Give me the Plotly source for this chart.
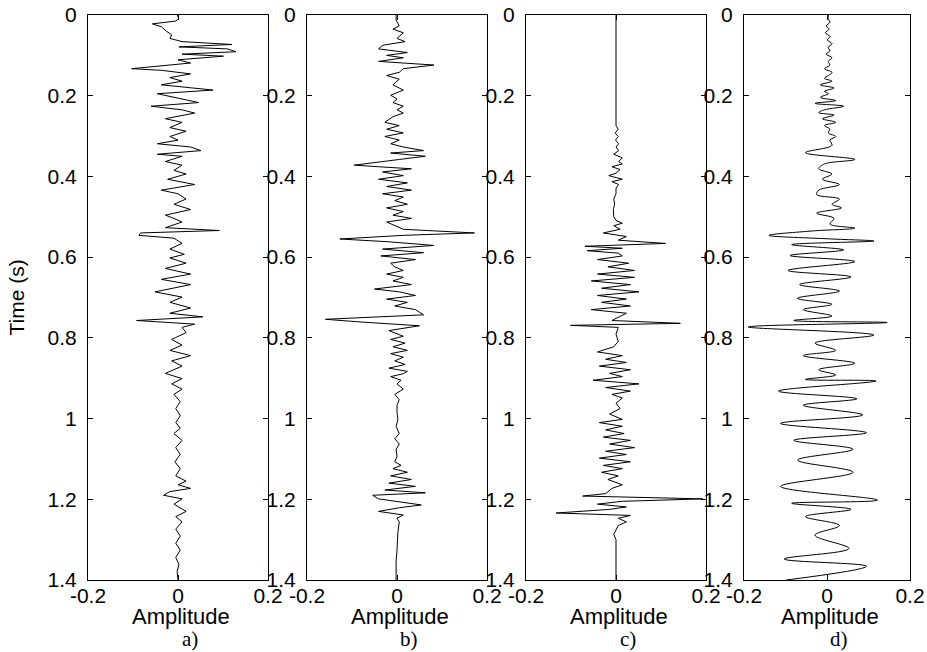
import plotly.graph_objects as go

# seismic traces: time (s) and amplitude
t_a = [0.000, 0.009, 0.015, 0.022, 0.029, 0.040, 0.049, 0.058, 0.066, 0.073, 0.079, 0.084, 0.091, 0.097,
       0.102, 0.111, 0.119, 0.133, 0.137, 0.146, 0.155, 0.164, 0.173, 0.186, 0.195, 0.204, 0.217, 0.226,
       0.235, 0.243, 0.257, 0.266, 0.279, 0.288, 0.301, 0.310, 0.319, 0.327, 0.336, 0.345, 0.350, 0.363,
       0.372, 0.385, 0.394, 0.407, 0.420, 0.434, 0.443, 0.456, 0.469, 0.482, 0.496, 0.504, 0.513, 0.527,
       0.534, 0.540, 0.546, 0.553, 0.566, 0.580, 0.593, 0.602, 0.615, 0.628, 0.642, 0.655, 0.668, 0.686,
       0.699, 0.712, 0.726, 0.739, 0.748, 0.757, 0.766, 0.774, 0.787, 0.804, 0.818, 0.831, 0.844, 0.857,
       0.870, 0.888, 0.901, 0.914, 0.927, 0.940, 0.958, 0.975, 0.993, 1.010, 1.024, 1.037, 1.054, 1.072,
       1.089, 1.107, 1.124, 1.142, 1.155, 1.164, 1.173, 1.181, 1.190, 1.199, 1.212, 1.230, 1.243, 1.256,
       1.274, 1.291, 1.309, 1.326, 1.344, 1.361, 1.379, 1.400]
amp_a = [-0.002, 0.002, -0.005, -0.057, -0.037, -0.026, -0.014, -0.018, 0.009, 0.120, 0.002, 0.110, 0.129, 0.009,
         0.101, 0.000, 0.028, -0.103, -0.037, 0.028, -0.018, 0.009, -0.037, 0.078, -0.046, -0.009, 0.046, -0.060,
         0.009, 0.037, -0.028, 0.009, -0.018, 0.018, -0.018, 0.000, -0.046, 0.028, 0.051, -0.046, 0.009, -0.028,
         0.009, -0.009, 0.018, -0.023, 0.037, -0.037, 0.000, 0.018, -0.009, 0.028, -0.028, -0.009, 0.009, -0.028,
         0.092, -0.083, -0.087, -0.009, 0.009, -0.018, 0.014, -0.018, 0.018, -0.028, 0.028, -0.037, 0.028, -0.051,
         0.009, -0.018, 0.028, -0.018, 0.055, -0.092, 0.037, 0.009, 0.018, -0.014, 0.009, -0.018, 0.028, -0.014,
         0.009, -0.028, 0.009, -0.014, 0.009, -0.009, 0.005, -0.005, 0.005, -0.005, 0.005, -0.009, 0.009, -0.005,
         0.005, -0.007, 0.005, -0.005, 0.018, 0.000, 0.028, -0.018, -0.032, 0.009, -0.009, 0.018, -0.005, 0.009,
         -0.005, 0.005, -0.005, 0.005, -0.005, 0.002, -0.002, 0.000]

t_b = [0.000, 0.013, 0.027, 0.035, 0.044, 0.058, 0.066, 0.075, 0.084, 0.093, 0.100, 0.106, 0.115, 0.124,
       0.133, 0.142, 0.150, 0.159, 0.173, 0.186, 0.199, 0.208, 0.217, 0.226, 0.235, 0.243, 0.252, 0.266,
       0.274, 0.283, 0.292, 0.301, 0.310, 0.319, 0.327, 0.336, 0.342, 0.350, 0.358, 0.372, 0.376, 0.381,
       0.389, 0.398, 0.407, 0.416, 0.425, 0.434, 0.443, 0.451, 0.460, 0.469, 0.478, 0.487, 0.496, 0.504,
       0.513, 0.522, 0.531, 0.540, 0.546, 0.555, 0.562, 0.571, 0.580, 0.589, 0.597, 0.606, 0.615, 0.624,
       0.633, 0.642, 0.650, 0.659, 0.668, 0.679, 0.686, 0.695, 0.704, 0.712, 0.721, 0.730, 0.743, 0.754,
       0.761, 0.770, 0.782, 0.796, 0.804, 0.813, 0.822, 0.831, 0.839, 0.848, 0.857, 0.866, 0.875, 0.883,
       0.889, 0.896, 0.905, 0.914, 0.927, 0.940, 0.953, 0.967, 0.984, 1.002, 1.019, 1.037, 1.050, 1.063,
       1.076, 1.094, 1.107, 1.116, 1.124, 1.133, 1.142, 1.151, 1.160, 1.168, 1.177, 1.184, 1.190, 1.199,
       1.208, 1.214, 1.221, 1.230, 1.239, 1.247, 1.256, 1.282, 1.326, 1.353, 1.400]
amp_b = [-0.002, -0.002, 0.005, -0.009, 0.014, 0.000, 0.018, -0.032, -0.041, 0.023, -0.023, 0.014, -0.041, 0.082,
         0.014, 0.005, -0.023, 0.005, -0.009, 0.014, -0.014, 0.000, -0.009, 0.014, 0.000, 0.014, -0.009, -0.027,
         0.005, -0.023, 0.014, -0.027, 0.005, -0.014, 0.014, 0.059, -0.014, 0.063, 0.005, -0.095, -0.041, 0.032,
         -0.032, 0.014, -0.041, 0.023, -0.023, 0.032, -0.032, 0.014, -0.005, 0.023, -0.023, 0.014, -0.009, 0.032,
         -0.023, -0.005, 0.014, 0.172, 0.014, -0.127, -0.018, 0.082, -0.032, 0.059, -0.036, 0.041, -0.014, -0.005,
         0.014, -0.023, 0.014, -0.009, 0.032, -0.050, 0.005, 0.041, -0.023, 0.023, -0.005, 0.041, 0.059, -0.159,
         -0.077, 0.050, -0.018, 0.014, -0.014, 0.018, -0.009, 0.023, -0.014, 0.014, -0.005, 0.018, -0.018, 0.023,
         0.014, -0.014, 0.009, 0.000, 0.014, -0.005, 0.005, 0.000, 0.000, 0.002, -0.002, 0.005, -0.005, 0.005,
         -0.002, 0.000, -0.005, 0.009, -0.009, 0.023, -0.014, 0.032, -0.018, 0.041, -0.027, 0.063, -0.054, -0.041,
         0.014, 0.054, 0.005, -0.041, 0.014, 0.000, 0.005, 0.002, 0.000, -0.002, -0.002]

t_c = [0.000, 0.274, 0.283, 0.292, 0.301, 0.310, 0.319, 0.327, 0.336, 0.345, 0.354, 0.363, 0.369, 0.376,
       0.383, 0.392, 0.398, 0.407, 0.413, 0.420, 0.429, 0.443, 0.456, 0.469, 0.482, 0.491, 0.500, 0.509,
       0.516, 0.522, 0.531, 0.540, 0.549, 0.558, 0.566, 0.573, 0.578, 0.584, 0.590, 0.597, 0.606, 0.615,
       0.624, 0.633, 0.642, 0.650, 0.659, 0.668, 0.677, 0.686, 0.695, 0.704, 0.712, 0.721, 0.730, 0.739,
       0.748, 0.757, 0.764, 0.769, 0.774, 0.791, 0.809, 0.822, 0.835, 0.844, 0.853, 0.861, 0.870, 0.879,
       0.888, 0.896, 0.905, 0.914, 0.923, 0.932, 0.940, 0.949, 0.962, 0.975, 0.989, 1.002, 1.010, 1.019,
       1.028, 1.037, 1.046, 1.054, 1.063, 1.072, 1.081, 1.089, 1.098, 1.107, 1.116, 1.124, 1.133, 1.142,
       1.151, 1.164, 1.173, 1.186, 1.192, 1.199, 1.205, 1.212, 1.219, 1.225, 1.234, 1.240, 1.247, 1.256,
       1.265, 1.278, 1.287, 1.300, 1.326, 1.400]
amp_c = [0.000, 0.000, 0.005, -0.002, 0.005, -0.001, 0.006, 0.000, 0.006, -0.005, 0.014, 0.006, 0.014, -0.009,
         0.009, 0.000, -0.016, 0.014, -0.009, 0.006, 0.000, 0.000, -0.005, -0.003, -0.006, -0.006, -0.005, 0.000,
         0.014, -0.005, 0.009, -0.028, 0.023, 0.005, 0.110, -0.069, 0.014, -0.064, 0.005, 0.014, -0.041, 0.028,
         -0.018, 0.041, -0.041, 0.041, -0.055, 0.032, -0.032, 0.051, -0.041, 0.023, -0.032, 0.032, -0.055, 0.023,
         0.005, -0.009, 0.143, -0.101, 0.005, 0.000, 0.005, -0.005, -0.041, 0.014, -0.023, 0.023, -0.037, 0.032,
         -0.014, 0.014, -0.051, 0.051, -0.023, 0.032, -0.009, 0.014, 0.000, 0.009, -0.014, 0.014, -0.037, 0.014,
         -0.023, 0.018, -0.028, 0.032, -0.014, 0.041, -0.023, 0.023, -0.037, 0.032, -0.028, 0.014, -0.032, 0.005,
         -0.018, 0.014, -0.009, -0.023, -0.074, 0.193, 0.014, -0.041, 0.023, -0.014, -0.133, 0.032, 0.005, 0.023,
         0.005, 0.000, -0.005, 0.000, 0.000, 0.000]

t_d = [0.000, 0.009, 0.018, 0.027, 0.035, 0.044, 0.053, 0.062, 0.071, 0.080, 0.089, 0.097, 0.106, 0.115,
       0.124, 0.133, 0.142, 0.150, 0.157, 0.164, 0.173, 0.181, 0.189, 0.195, 0.204, 0.212, 0.219, 0.226,
       0.235, 0.242, 0.248, 0.257, 0.266, 0.274, 0.283, 0.292, 0.301, 0.310, 0.323, 0.341, 0.358, 0.369,
       0.381, 0.394, 0.407, 0.420, 0.434, 0.445, 0.456, 0.469, 0.478, 0.491, 0.504, 0.518, 0.528, 0.535,
       0.546, 0.555, 0.560, 0.569, 0.582, 0.596, 0.611, 0.633, 0.649, 0.668, 0.684, 0.702, 0.717, 0.730,
       0.746, 0.757, 0.762, 0.773, 0.793, 0.813, 0.831, 0.844, 0.863, 0.879, 0.892, 0.903, 0.907, 0.932,
       0.951, 0.967, 0.991, 1.012, 1.035, 1.054, 1.076, 1.103, 1.133, 1.168, 1.202, 1.210, 1.225, 1.243,
       1.265, 1.289, 1.322, 1.348, 1.366, 1.400]
amp_d = [0.003, 0.003, 0.007, -0.002, 0.005, -0.004, 0.007, 0.001, 0.012, 0.003, 0.007, -0.002, 0.012, 0.003,
         0.007, -0.006, 0.012, 0.003, -0.006, 0.012, -0.016, 0.017, -0.006, 0.003, -0.016, 0.021, -0.029, 0.040,
         -0.006, -0.020, 0.017, -0.011, 0.021, -0.006, 0.007, 0.003, 0.021, 0.007, 0.012, -0.052, 0.067, -0.006,
         -0.020, 0.012, -0.011, 0.030, -0.020, -0.025, 0.030, 0.012, 0.035, -0.025, 0.017, 0.007, 0.067, -0.034,
         -0.140, 0.012, 0.113, -0.085, 0.040, -0.089, 0.067, -0.094, 0.058, -0.066, 0.030, -0.071, 0.012, -0.057,
         0.012, -0.080, 0.145, -0.190, 0.113, -0.029, 0.021, -0.057, 0.067, -0.020, 0.021, -0.052, 0.118, -0.117,
         0.072, -0.057, 0.086, -0.112, 0.095, -0.080, 0.063, -0.071, 0.063, -0.112, 0.122, -0.085, 0.058, -0.052,
         0.030, -0.029, 0.053, -0.103, 0.095, -0.098]

x_ticks = [-0.2, 0, 0.2]
x_tick_text = ['-0.2', '0', '0.2']
panel_labels = ['a)', 'b)', 'c)', 'd)']

traces = [(t_a, amp_a, 'linear'), (t_b, amp_b, 'linear'), (t_c, amp_c, 'linear'), (t_d, amp_d, 'spline')]
x_dom = [(88, 268), (307, 487), (526, 706), (744, 910)]
W, H = 927, 652
top, bottom = 15, 580
y_dom = [1 - bottom / H, 1 - top / H]

font = 'Arial, Liberation Sans, sans-serif'
fig = go.Figure()
annots = []
for i, (t, amp, shape) in enumerate(traces):
    n = '' if i == 0 else str(i + 1)
    fig.add_trace(go.Scatter(x=amp, y=t, mode='lines', xaxis='x' + n, yaxis='y' + n,
                             line=dict(color='black', width=1, shape=shape), showlegend=False))
    x0, x1 = x_dom[i]
    common = dict(ticks='inside', ticklen=5, showline=True, linecolor='black', linewidth=1, mirror='ticks',
                  tickcolor='black', showgrid=False, zeroline=False, automargin=False,
                  tickfont=dict(family=font, size=21, color='black'))
    ax = dict(domain=[x0 / W, x1 / W], range=[-0.2, 0.2], tickvals=x_ticks, ticktext=x_tick_text,
              anchor='y' + n, ticklabelstandoff=-3, **common)
    ay = dict(domain=y_dom, range=[1.4, 0], dtick=0.2, tick0=0, anchor='x' + n,
              ticklabelstandoff=6, **common)
    fig.update_layout({'xaxis' + n: ax, 'yaxis' + n: ay})
    cx = (x0 + x1) / 2
    annots.append(dict(text='Amplitude', x=(cx + 3) / W, y=1 - 616 / H, xref='paper', yref='paper',
                       xanchor='center', yanchor='middle', showarrow=False,
                       font=dict(family=font, size=22, color='black')))
    annots.append(dict(text=panel_labels[i], x=(cx + 12) / W, y=1 - 639 / H, xref='paper', yref='paper',
                       xanchor='center', yanchor='middle', showarrow=False,
                       font=dict(family='Times New Roman, Liberation Serif, serif', size=21, color='black')))

annots.append(dict(text='Time (s)', x=16 / W, y=1 - (top + bottom) / 2 / H, xref='paper', yref='paper',
                   xanchor='center', yanchor='middle', textangle=-90, showarrow=False,
                   font=dict(family=font, size=21, color='black')))

fig.update_layout(template='none', width=W, height=H, margin=dict(l=0, r=0, t=0, b=0),
                  paper_bgcolor='white', plot_bgcolor='white', annotations=annots)
fig.write_html('out.html', config={'displayModeBar': False},
               post_script="document.body.style.margin = '0px';")
